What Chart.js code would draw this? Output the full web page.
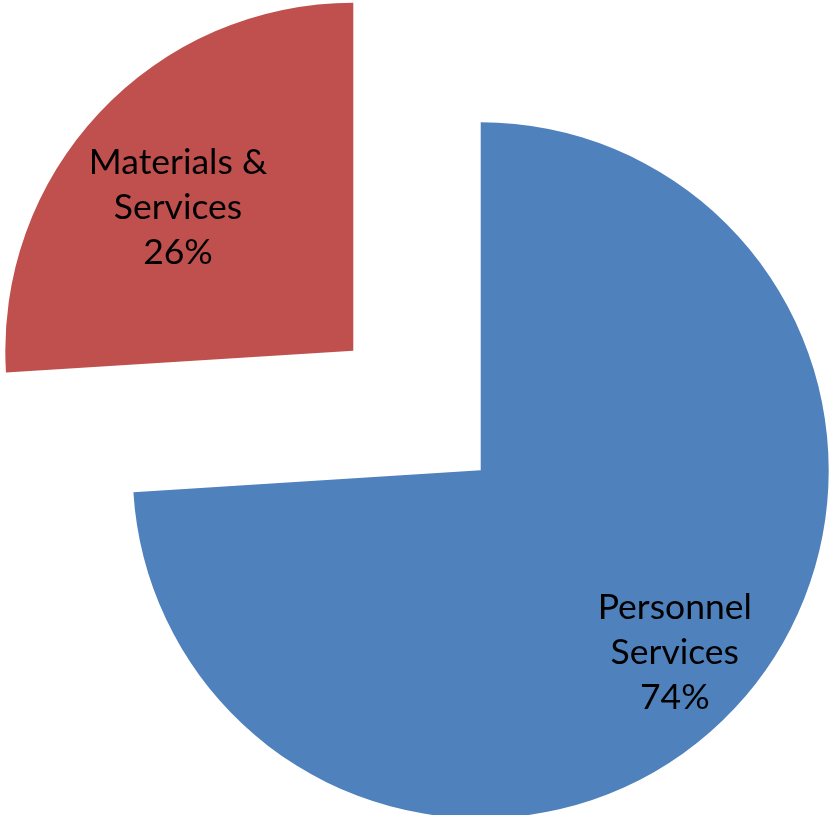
<!DOCTYPE html>
<html>
<head>
<meta charset="utf-8">
<script src="https://cdn.jsdelivr.net/npm/chart.js@4/dist/chart.umd.min.js"></script>
<style>
  html, body { margin: 0; padding: 0; background: #ffffff; }
  #wrap { width: 829px; height: 815px; }
</style>
</head>
<body>
<div id="wrap"><canvas id="chart" width="829" height="815"></canvas></div>
<script>
// Budget split by expense category
const categories = ['Personnel Services', 'Materials & Services'];
const labelLines = [['Personnel', 'Services'], ['Materials &', 'Services']];
const values = [74, 26];
const percentLabels = ['74%', '26%'];
const sliceColors = ['#4F81BD', '#C0504D'];

// Each slice is pulled out from the pie centre along its mid-angle
const EXPLODE = 87.4;
// Where the label block sits, as a fraction of the radius, plus a small angular nudge (degrees)
const labelRadius = [0.765, 0.65];
const labelAngleShift = [0, -4];

const explodePlugin = {
  id: 'explodeSlices',
  afterDatasetUpdate(chart, args) {
    const meta = chart.getDatasetMeta(args.index);
    meta.data.forEach(arc => {
      const mid = (arc.startAngle + arc.endAngle) / 2;
      arc.x += Math.cos(mid) * EXPLODE;
      arc.y += Math.sin(mid) * EXPLODE;
    });
  }
};

const labelPlugin = {
  id: 'sliceLabels',
  afterDatasetsDraw(chart) {
    const ctx = chart.ctx;
    const meta = chart.getDatasetMeta(0);
    const lineH = 45;
    ctx.save();
    ctx.fillStyle = '#000000';
    ctx.font = '35.5px Lato, "Open Sans", sans-serif';
    ctx.textAlign = 'center';
    ctx.textBaseline = 'middle';
    meta.data.forEach((arc, i) => {
      const mid = (arc.startAngle + arc.endAngle) / 2 + labelAngleShift[i] * Math.PI / 180;
      const r = arc.outerRadius * labelRadius[i];
      const cx = arc.x + Math.cos(mid) * r;
      const cy = arc.y + Math.sin(mid) * r;
      const lines = labelLines[i].concat([percentLabels[i]]);
      const top = cy - (lines.length - 1) * lineH / 2;
      lines.forEach((t, k) => ctx.fillText(t, cx, top + k * lineH));
    });
    ctx.restore();
  }
};

new Chart(document.getElementById('chart'), {
  type: 'pie',
  data: {
    labels: categories,
    datasets: [{
      data: values,
      backgroundColor: sliceColors,
      borderWidth: 0,
      hoverOffset: 0
    }]
  },
  options: {
    responsive: false,
    animation: false,
    layout: { padding: { left: 69, top: 62.5, right: 64, bottom: 56.5 } },
    plugins: {
      legend: { display: false },
      tooltip: { enabled: true }
    }
  },
  plugins: [explodePlugin, labelPlugin]
});
</script>
</body>
</html>
